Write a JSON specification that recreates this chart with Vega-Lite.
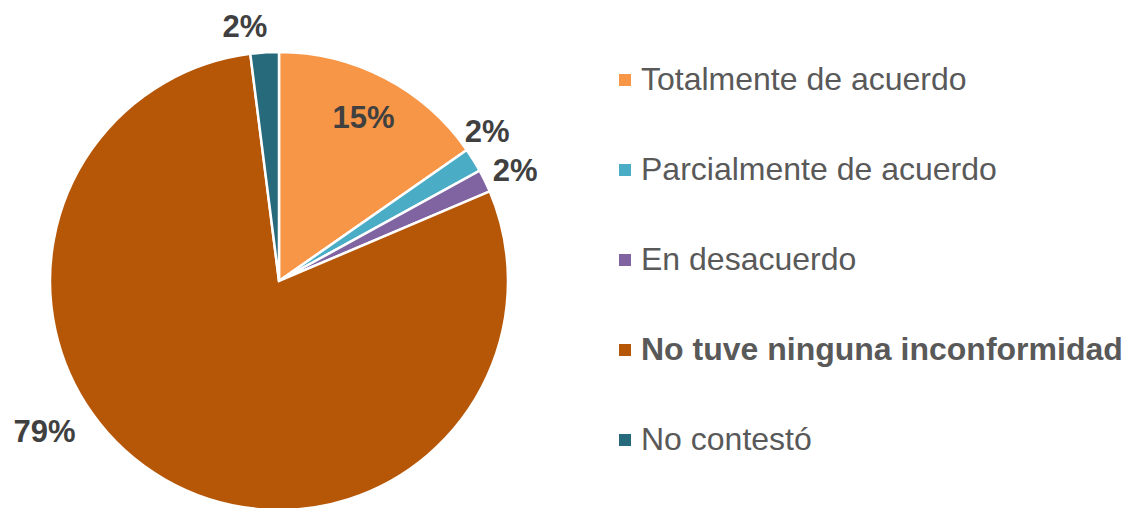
{
  "$schema": "https://vega.github.io/schema/vega-lite/v6.json",
  "width": 558,
  "height": 562,
  "padding": {"left": 0, "top": 0, "right": 571, "bottom": 0},
  "autosize": {"type": "none"},
  "background": "white",
  "config": {"view": {"stroke": null}},
  "data": {
    "values": [
      {"categoria": "Totalmente de acuerdo", "valor": 15.3, "etiqueta": "15%", "orden": 1},
      {"categoria": "Parcialmente de acuerdo", "valor": 1.7, "etiqueta": "2%", "orden": 2},
      {"categoria": "En desacuerdo", "valor": 1.6, "etiqueta": "2%", "orden": 3},
      {"categoria": "No tuve ninguna inconformidad", "valor": 79.4, "etiqueta": "79%", "orden": 4},
      {"categoria": "No contestó", "valor": 2.0, "etiqueta": "2%", "orden": 5}
    ]
  },
  "encoding": {
    "theta": {"field": "valor", "type": "quantitative", "stack": true},
    "order": {"field": "orden", "type": "quantitative"}
  },
  "layer": [
    {
      "mark": {"type": "arc", "outerRadius": 229, "stroke": "white", "strokeWidth": 2.5},
      "encoding": {
        "color": {
          "field": "categoria",
          "type": "nominal",
          "scale": {
            "domain": ["Totalmente de acuerdo", "Parcialmente de acuerdo", "En desacuerdo", "No tuve ninguna inconformidad", "No contestó"],
            "range": ["#F79646", "#4BACC6", "#8064A2", "#B65708", "#276A7C"]
          },
          "sort": null,
          "legend": {
            "orient": "none",
            "legendX": 609,
            "legendY": 64,
            "title": null,
            "symbolType": "square",
            "symbolSize": 144,
            "symbolStrokeWidth": 0,
            "labelFontSize": 32,
            "labelFont": "Liberation Sans",
            "labelColor": "#595959",
            "labelLimit": 700,
            "rowPadding": 58,
            "labelOffset": 0,
            "padding": 0,
            "labelFontWeight": {"expr": "datum.value === 'No tuve ninguna inconformidad' ? 'bold' : 'normal'"}
          }
        }
      }
    },
    {
      "mark": {"type": "text", "radius": 183, "fontSize": 31, "fontWeight": "bold", "font": "Liberation Sans", "fill": "#404040"},
      "encoding": {"text": {"condition": {"test": "datum.orden === 1", "field": "etiqueta"}, "value": ""}}
    },
    {
      "mark": {"type": "text", "radius": 258, "dx": -11, "dy": -12, "fontSize": 31, "fontWeight": "bold", "font": "Liberation Sans", "fill": "#404040"},
      "encoding": {"text": {"condition": {"test": "datum.orden === 2", "field": "etiqueta"}, "value": ""}}
    },
    {
      "mark": {"type": "text", "radius": 258, "dx": 4, "dy": 4, "fontSize": 31, "fontWeight": "bold", "font": "Liberation Sans", "fill": "#404040"},
      "encoding": {"text": {"condition": {"test": "datum.orden === 3", "field": "etiqueta"}, "value": ""}}
    },
    {
      "mark": {"type": "text", "radius": 258, "dx": -106, "dy": -72, "fontSize": 31, "fontWeight": "bold", "font": "Liberation Sans", "fill": "#404040"},
      "encoding": {"text": {"condition": {"test": "datum.orden === 4", "field": "etiqueta"}, "value": ""}}
    },
    {
      "mark": {"type": "text", "radius": 258, "dx": -18, "dy": 4, "fontSize": 31, "fontWeight": "bold", "font": "Liberation Sans", "fill": "#404040"},
      "encoding": {"text": {"condition": {"test": "datum.orden === 5", "field": "etiqueta"}, "value": ""}}
    }
  ]
}
